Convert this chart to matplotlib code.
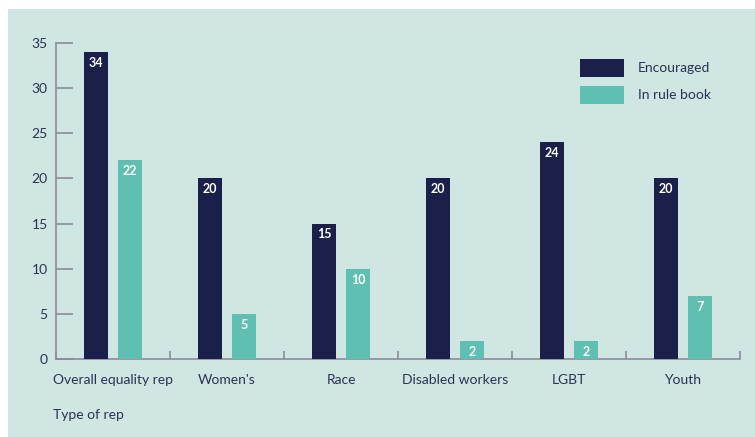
import matplotlib
matplotlib.use("Agg")
import matplotlib.pyplot as plt
from matplotlib.patches import Rectangle
import numpy as np

categories = ["Overall equality rep", "Women's", "Race", "Disabled workers", "LGBT", "Youth"]
encouraged = [34, 20, 15, 20, 24, 20]
in_rule_book = [22, 5, 10, 2, 2, 7]
y_ticks = [0, 5, 10, 15, 20, 25, 30, 35]
series_names = ["Encouraged", "In rule book"]

DARK = "#1a2049"
TEAL = "#5fbfb0"
BG = "#cfe6e2"
AXC = "#8b8b9c"
TXT = "#2b3252"

plt.rcParams['font.family'] = ['Lato', 'DejaVu Sans']

W, H = 755, 437
fig = plt.figure(figsize=(W / 100, H / 100), dpi=100, facecolor="white")
fig.patches.append(Rectangle((8 / W, 0), 1 - 8 / W, (H - 9) / H, transform=fig.transFigure,
                             facecolor=BG, edgecolor="none", zorder=-10))

ax = fig.add_axes([56 / W, (H - 359) / H, (740 - 56) / W, (359 - 43) / H])
ax.set_zorder(5)
ax.set_facecolor("none")

x = np.arange(len(categories))
bw = 0.21
off = 0.149
b1 = ax.bar(x - off, encouraged, bw, color=DARK, label=series_names[0], zorder=3)
b2 = ax.bar(x + off, in_rule_book, bw, color=TEAL, label=series_names[1], zorder=3)

for bars, vals in ((b1, encouraged), (b2, in_rule_book)):
    for r, v in zip(bars, vals):
        ax.annotate(str(v), (r.get_x() + r.get_width() / 2, v), xytext=(0, -3.5),
                    textcoords="offset points", ha="center", va="top",
                    color="white", fontsize=9, fontweight="bold", zorder=4)

ax.set_xlim(-0.5, len(categories) - 0.5)
ax.set_ylim(0, 35)
ax.set_yticks(y_ticks)
ax.set_xticks(x)
ax.set_xticklabels(categories)
ax.set_xticks(np.arange(len(categories) + 1) - 0.5, minor=True)

for s in ("top", "right"):
    ax.spines[s].set_visible(False)
for s in ("left", "bottom"):
    ax.spines[s].set_color(AXC)
    ax.spines[s].set_linewidth(1.2)

ax.tick_params(axis="y", direction="in", length=12, width=1.2, color=AXC,
               labelcolor=TXT, labelsize=10, pad=6)
ax.tick_params(axis="x", which="major", length=0, labelcolor=TXT, labelsize=10, pad=11)
ax.tick_params(axis="x", which="minor", direction="in", length=6, width=1.2, color=AXC)

fig.text(53 / W, 1 - 415 / H, "Type of rep", color=TXT, fontsize=10, ha="left", va="center")

# legend drawn manually (pixel positions from reference)
for i, (name, col) in enumerate(zip(series_names, [DARK, TEAL])):
    top = 59 + 27 * i
    fig.patches.append(Rectangle((580 / W, 1 - (top + 18) / H), 44 / W, 18 / H,
                                 transform=fig.transFigure, facecolor=col, edgecolor="none",
                                 zorder=6))
    fig.text(638 / W, 1 - (top + 9) / H, name, color=TXT, fontsize=10, ha="left",
             va="center", zorder=7)

fig.savefig("out.png", dpi=100, facecolor="white")
